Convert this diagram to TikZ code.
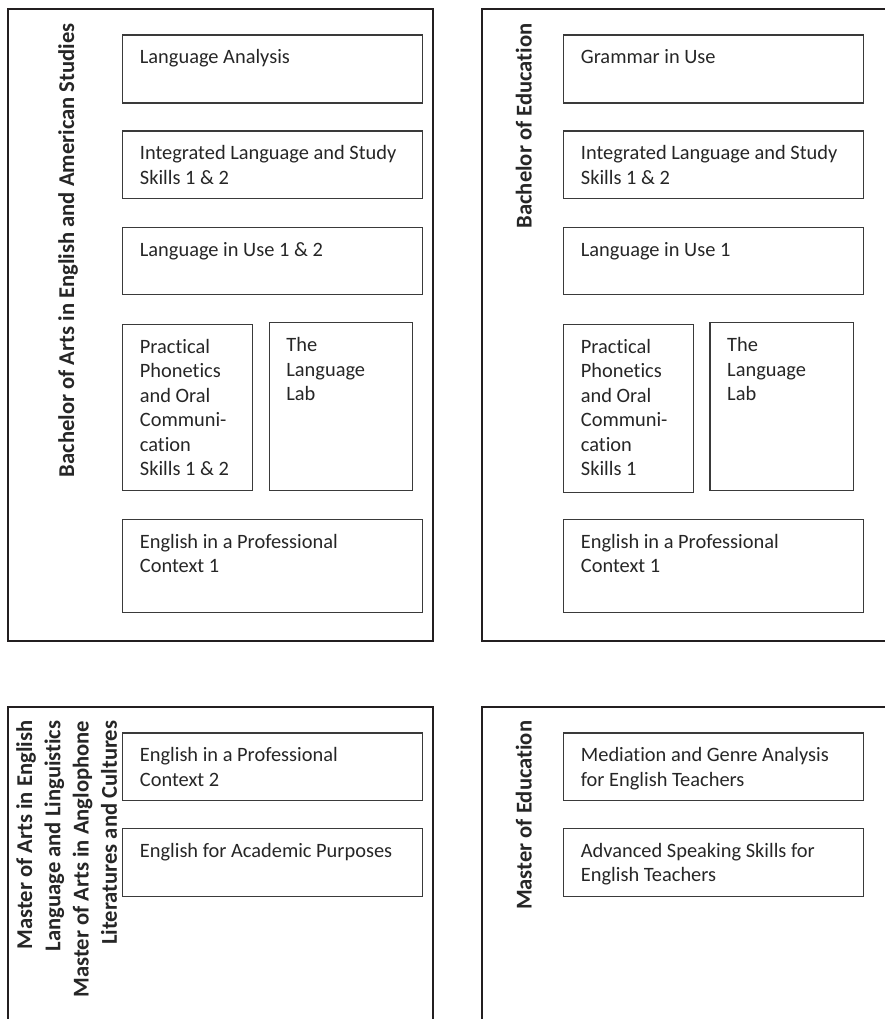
\documentclass[tikz,border=0pt]{standalone}
\usepackage{fontspec}
\setmainfont{Carlito}[Ligatures=NoCommon]
\definecolor{frame}{HTML}{231F20}
\definecolor{boxline}{HTML}{3A3A3A}
\definecolor{ink}{HTML}{262626}
\newcommand\bodyfont{\fontsize{20.4}{24.5}\selectfont}
\newcommand\titlefont{\fontsize{22.6}{28.3}\selectfont\bfseries}
\newcommand\ctxt[1]{\parbox[t]{270pt}{\raggedright #1}}
\tikzset{
  panel/.style={draw=frame, line width=1.6pt},
  course/.style={draw=boxline, line width=1.3pt, rectangle, inner sep=0pt, anchor=north west},
  ctext/.style={anchor=base west, inner sep=0pt, text=ink, font=\bodyfont},
  ptitle/.style={rotate=90, anchor=base east, inner sep=0pt, text=ink, font=\titlefont},
}
\begin{document}
\begin{tikzpicture}[x=1pt, y=-1pt]
\useasboundingbox (0,0) rectangle (884,1019);

% programme frames
\draw[panel] (8,9) rectangle (433,641);
\draw[panel] (890,9) -- (481.7,9) -- (481.7,641) -- (890,641);
\draw[panel] (8,1025) -- (8,706.7) -- (433,706.7) -- (433,1025);
\draw[panel] (481.7,1025) -- (481.7,706.7) -- (890,706.7);

% programme titles
\node[ptitle] (t1) at (74,23.3) {Bachelor of Arts in English and American Studies};
\node[ptitle] (t2) at (531.7,23.3) {Bachelor of Education};
\node[ptitle] (t3) at (32,720.5) {\parbox[t]{400pt}{\raggedleft Master of Arts in English\\Language and Linguistics\\Master of Arts in Anglophone\\Literatures and Cultures}};
\node[ptitle] (t4) at (531.7,720.7) {Master of Education};

% Bachelor of Arts courses
\node[course, minimum width=299.7pt, minimum height=68pt] (a1) at (122,34.3) {};
\node[ctext] (a1t) at ([shift={(17.7,29.3)}]a1.north west) {\ctxt{Language Analysis}};
\node[course, minimum width=299.7pt, minimum height=67.7pt] (a2) at (122,130.3) {};
\node[ctext] (a2t) at ([shift={(17.7,29.3)}]a2.north west) {\ctxt{Integrated Language and Study\\Skills 1 \& 2}};
\node[course, minimum width=299.7pt, minimum height=67.3pt] (a3) at (122,226.7) {};
\node[ctext] (a3t) at ([shift={(17.7,29.3)}]a3.north west) {\ctxt{Language in Use 1 \& 2}};
\node[course, minimum width=129.7pt, minimum height=166pt] (a4) at (122,324) {};
\node[ctext] (a4t) at ([shift={(17.7,29.3)}]a4.north west) {\ctxt{Practical\\Phonetics\\and Oral\\Communi-\\cation\\Skills 1 \& 2}};
\node[course, minimum width=143.3pt, minimum height=167.7pt] (a5) at (268.7,322) {};
\node[ctext] (a5t) at ([shift={(17.5,29.7)}]a5.north west) {\ctxt{The\\Language\\Lab}};
\node[course, minimum width=299.7pt, minimum height=93pt] (a6) at (122,519) {};
\node[ctext] (a6t) at ([shift={(17.7,29.3)}]a6.north west) {\ctxt{English in a Professional\\Context 1}};

% Bachelor of Education courses
\node[course, minimum width=300pt, minimum height=68pt] (b1) at (562.7,34.3) {};
\node[ctext] (b1t) at ([shift={(18,29.3)}]b1.north west) {\ctxt{Grammar in Use}};
\node[course, minimum width=300pt, minimum height=67.7pt] (b2) at (562.7,130.3) {};
\node[ctext] (b2t) at ([shift={(18,29.3)}]b2.north west) {\ctxt{Integrated Language and Study\\Skills 1 \& 2}};
\node[course, minimum width=300pt, minimum height=67.3pt] (b3) at (562.7,226.7) {};
\node[ctext] (b3t) at ([shift={(18,29.3)}]b3.north west) {\ctxt{Language in Use 1}};
\node[course, minimum width=130pt, minimum height=168pt] (b4) at (562.7,324) {};
\node[ctext] (b4t) at ([shift={(18,29.3)}]b4.north west) {\ctxt{Practical\\Phonetics\\and Oral\\Communi-\\cation\\Skills 1}};
\node[course, minimum width=143.4pt, minimum height=167.7pt] (b5) at (709.3,322) {};
\node[ctext] (b5t) at ([shift={(17.7,29.7)}]b5.north west) {\ctxt{The\\Language\\Lab}};
\node[course, minimum width=300pt, minimum height=93pt] (b6) at (562.7,519) {};
\node[ctext] (b6t) at ([shift={(18,29.3)}]b6.north west) {\ctxt{English in a Professional\\Context 1}};

% Master of Arts courses
\node[course, minimum width=299.7pt, minimum height=67.7pt] (c1) at (122,732.3) {};
\node[ctext] (c1t) at ([shift={(17.7,29.3)}]c1.north west) {\ctxt{English in a Professional\\Context 2}};
\node[course, minimum width=299.7pt, minimum height=68pt] (c2) at (122,828) {};
\node[ctext] (c2t) at ([shift={(17.7,29.3)}]c2.north west) {\ctxt{English for Academic Purposes}};

% Master of Education courses
\node[course, minimum width=300pt, minimum height=67.7pt] (d1) at (562.7,732.3) {};
\node[ctext] (d1t) at ([shift={(18,29.3)}]d1.north west) {\ctxt{Mediation and Genre Analysis\\for English Teachers}};
\node[course, minimum width=300pt, minimum height=68pt] (d2) at (562.7,828) {};
\node[ctext] (d2t) at ([shift={(18,29.3)}]d2.north west) {\ctxt{Advanced Speaking Skills for\\English Teachers}};
\end{tikzpicture}
\end{document}
